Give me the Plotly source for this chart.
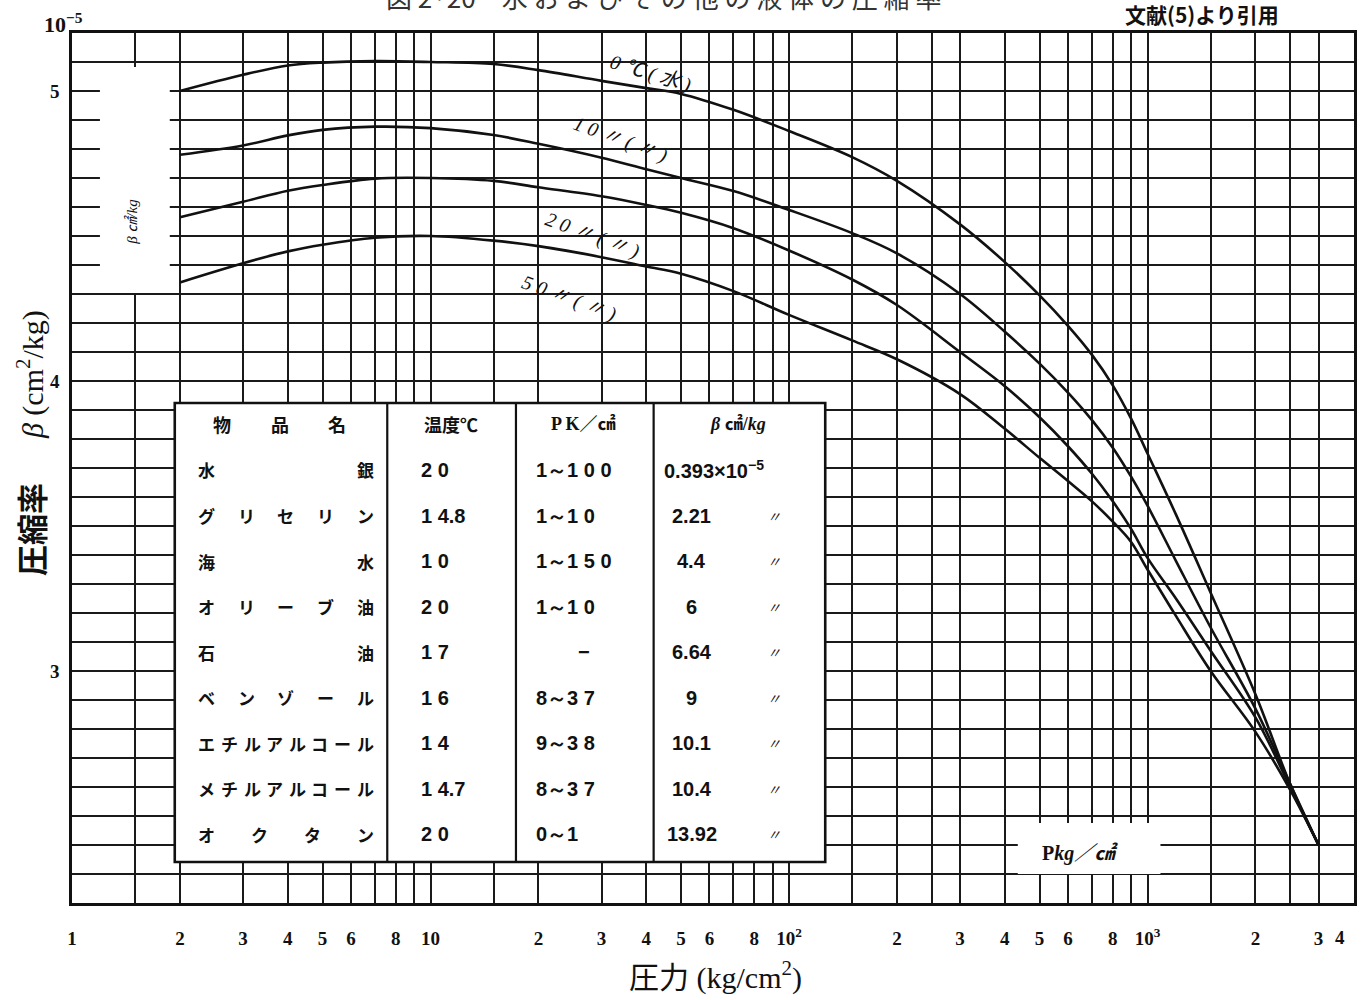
import plotly.graph_objects as go

# ---------------- layout geometry (pixels of the 1368x1000 page) ----------------
W, H = 1368, 1000
ML, MR, MT, MB = 72, 11, 33, 97
PW, PH = W - ML - MR, H - MT - MB


def px2x(px):
    return (px - ML) / PW


def py2y(py):
    return (H - MB - py) / PH


# ---------------- data ----------------
pressure = [2, 3, 4, 5, 7, 10, 15, 20, 30, 40, 50, 70, 100, 150, 200, 300,
            400, 500, 600, 700, 800, 900, 1000, 1200, 1500, 2000, 2500, 3000]

beta_0c = [5.00, 5.056, 5.088, 5.098, 5.103, 5.10, 5.093, 5.072, 5.035, 5.01,
           4.99, 4.935, 4.862, 4.772, 4.69, 4.54, 4.41, 4.295, 4.19, 4.09, 3.985,
           3.87, 3.75, 3.54, 3.27, 2.92, 2.61, 2.40]
beta_10c = [4.78, 4.812, 4.847, 4.866, 4.877, 4.872, 4.848, 4.818, 4.77, 4.73,
            4.70, 4.655, 4.59, 4.51, 4.44, 4.30, 4.17, 4.06, 3.96, 3.865,
            3.77, 3.67, 3.57, 3.38, 3.15, 2.87, 2.61, 2.40]
beta_20c = [4.565, 4.618, 4.656, 4.676, 4.698, 4.70, 4.69, 4.668, 4.637, 4.607,
            4.58, 4.527, 4.45, 4.35, 4.262, 4.10, 3.982, 3.875, 3.775, 3.68,
            3.585, 3.49, 3.39, 3.25, 3.07, 2.84, 2.60, 2.40]
beta_50c = [4.34, 4.406, 4.447, 4.47, 4.494, 4.50, 4.484, 4.465, 4.427, 4.395,
            4.37, 4.31, 4.228, 4.14, 4.075, 3.955, 3.835, 3.735, 3.655, 3.585,
            3.515, 3.445, 3.35, 3.19, 3.00, 2.79, 2.59, 2.40]

curve_labels = ["0℃(水)", "10〃(〃)", "20〃(〃)", "50〃(〃)"]

x_label_vals = [1, 2, 3, 4, 5, 6, 8, 10, 20, 30, 40, 50, 60, 80, 100, 200, 300,
                400, 500, 600, 800, 1000, 2000, 3000]
x_label_text = ["1", "2", "3", "4", "5", "6", "8", "10", "2", "3", "4", "5", "6",
                "8", "10<sup>2</sup>", "2", "3", "4", "5", "6", "8",
                "10<sup>3</sup>", "2", "3"]
x_extra_grid = [1.5, 7, 9, 15, 70, 90, 150, 250, 700, 900, 1500, 2500]
y_label_vals = [3, 4, 5]
y_label_text = ["3", "4", "5"]
y_extra_grid = [2.2, 2.3, 2.4, 2.5, 2.6, 2.7, 2.8, 2.9, 3.1, 3.2, 3.3, 3.4, 3.5,
                3.6, 3.7, 3.8, 3.9, 4.1, 4.2, 4.3, 4.4, 4.5, 4.6, 4.7, 4.8, 4.9,
                5.1, 5.2]

table_header = ["物品名", "温度℃", "P K／㎠", "<i>β</i> ㎠/<i>kg</i>"]
substances = ["水銀", "グリセリン", "海水", "オリーブ油", "石油", "ベンゾール",
              "エチルアルコール", "メチルアルコール", "オクタン"]
temperatures = ["20", "14.8", "10", "20", "17", "16", "14", "14.7", "20"]
pressure_ranges = ["1~100", "1~10", "1~150", "1~10", "−", "8~37", "9~38", "8~37", "0~1"]
beta_values = ["0.393", "2.21", "4.4", "6", "6.64", "9", "10.1", "10.4", "13.92"]

# ---------------- figure ----------------
fig = go.Figure()
for ys in [beta_0c, beta_10c, beta_20c, beta_50c]:
    fig.add_trace(go.Scatter(
        x=pressure, y=ys, mode="lines",
        line=dict(color="#111", width=2.6, shape="spline", smoothing=1.0),
        hoverinfo="skip", showlegend=False))

SERIF = "Liberation Serif, Noto Sans CJK JP"
CJK = "Noto Sans CJK JP"
ann = []


def add(text, px, py, size=18, family=SERIF, angle=0, xanchor="center",
        weight="normal", color="#111"):
    ann.append(dict(text=text, x=px2x(px), y=py2y(py), xref="paper", yref="paper",
                    showarrow=False, textangle=angle, xanchor=xanchor,
                    yanchor="middle",
                    font=dict(size=size, family=family, color=color, weight=weight)))


def spaced_digits(s):
    out, prev_digit, after_dot = "", False, False
    for ch in s.replace("~", "～"):
        if ch.isdigit() and prev_digit and not after_dot:
            out += " "
        if ch == ".":
            after_dot = True
        elif not ch.isdigit():
            after_dot = False
        out += ch
        prev_digit = ch.isdigit()
    return out


# curve labels
label_pos = [(652, 73, 17), (622, 140, 20), (594, 236, 20), (571, 298, 20)]
for lab, (px, py, ang) in zip(curve_labels, label_pos):
    add("<i>" + " ".join(lab) + "</i>", px, py, size=20, angle=ang)

# title (cut off at the top edge, as in the scan) and source
add("図 2·20　" + " ".join("水およびその他の液体の圧縮率"), 665, -3, size=26,
    family=CJK, color="#333")
add("文献(5)より引用", 1205, 14, size=21, family=CJK, weight="bold")

# axis captions
add("10<sup>−5</sup>", 63, 23, size=22, weight="bold")
add("4", 1343, 938, size=19, weight="bold")
add("圧力 (kg/cm<sup>2</sup>)", 717, 975, size=30)
add("圧縮率", 30, 530, size=31, angle=-90, family=CJK, weight="bold")
add("<i>β</i> (cm<sup>2</sup>/kg)", 30, 375, size=30, angle=-90)
add("<i>β ㎠/kg</i>", 131, 222, size=15, angle=-90)
add("<b>P</b><i>kg／㎠</i>", 1082, 853, size=20, weight="bold")

# table contents
row_y = [470 + 45.5 * i for i in range(len(substances))]
for i, ch in enumerate(table_header[0]):
    add(ch, 222 + 58 * i, 424, size=18, family=CJK, weight="bold")
add(table_header[1], 452, 424, size=18, family=CJK, weight="bold")
add(table_header[2], 585, 424, size=18, family=SERIF, weight="bold")
add(table_header[3], 740, 424, size=18, family=SERIF, weight="bold")

for r, (name, t, p, b) in enumerate(zip(substances, temperatures, pressure_ranges, beta_values)):
    y = row_y[r]
    n = len(name)
    x0, x1 = 207, 366
    for k, ch in enumerate(name):
        add(ch, x0 + (x1 - x0) * k / (n - 1), y, size=17, family=CJK, weight="bold")
    add(spaced_digits(t), 420, y, size=20, family="Liberation Sans", xanchor="left", weight="bold")
    if p == "−":
        add(p, 585, y, size=20, family="Liberation Sans", weight="bold")
    else:
        add(spaced_digits(p), 535, y, size=20, family="Liberation Sans", xanchor="left", weight="bold")
    if r == 0:
        add(b + "×10<sup>−5</sup>", 663, y, size=20, family="Liberation Sans", xanchor="left", weight="bold")
    else:
        add(b, 693, y, size=20, family="Liberation Sans", weight="bold")
        add("<i>〃</i>", 776, y, size=14, family=CJK)

# white blank areas and table frame
shapes = []


def rect(x0, y0, x1, y1, line_w=0):
    shapes.append(dict(type="rect", xref="paper", yref="paper",
                       x0=px2x(x0), x1=px2x(x1), y0=py2y(y1), y1=py2y(y0),
                       fillcolor="white", layer="above",
                       line=dict(color="#111", width=line_w)))


rect(100, 67, 170, 293)
rect(1020, 823, 1163, 874)
rect(175, 403, 827, 862, line_w=2.6)
for cx in [388, 517, 655]:
    shapes.append(dict(type="line", xref="paper", yref="paper",
                       x0=px2x(cx), x1=px2x(cx), y0=py2y(862), y1=py2y(403),
                       layer="above", line=dict(color="#111", width=2.2)))

GRID = dict(showgrid=True, gridcolor="#1a1a1a", gridwidth=1.7)
fig.update_layout(
    width=W, height=H,
    margin=dict(l=ML, r=MR, t=MT, b=MB, pad=0),
    paper_bgcolor="white", plot_bgcolor="white",
    showlegend=False,
    annotations=ann, shapes=shapes,
    xaxis=dict(type="log", range=[0, 3.576], tickmode="array",
               tickvals=x_label_vals, ticktext=x_label_text, **GRID,
               minor=dict(tickmode="array", tickvals=x_extra_grid, ticks="", **GRID),
               zeroline=False, showline=True, mirror=True, linecolor="#111",
               linewidth=2.6, ticks="", ticklabelstandoff=16,
               tickfont=dict(family="Liberation Serif", size=19, color="#111", weight="bold")),
    yaxis=dict(range=[2.2, 5.2], tickmode="array", tickvals=y_label_vals,
               ticktext=y_label_text, **GRID,
               minor=dict(tickmode="array", tickvals=y_extra_grid, ticks="", **GRID),
               zeroline=False, showline=True, mirror=True,
               linecolor="#111", linewidth=2.6, ticks="", ticklabelstandoff=6,
               tickfont=dict(family="Liberation Serif", size=19, color="#111", weight="bold")),
)

fig.write_html("out.html")
